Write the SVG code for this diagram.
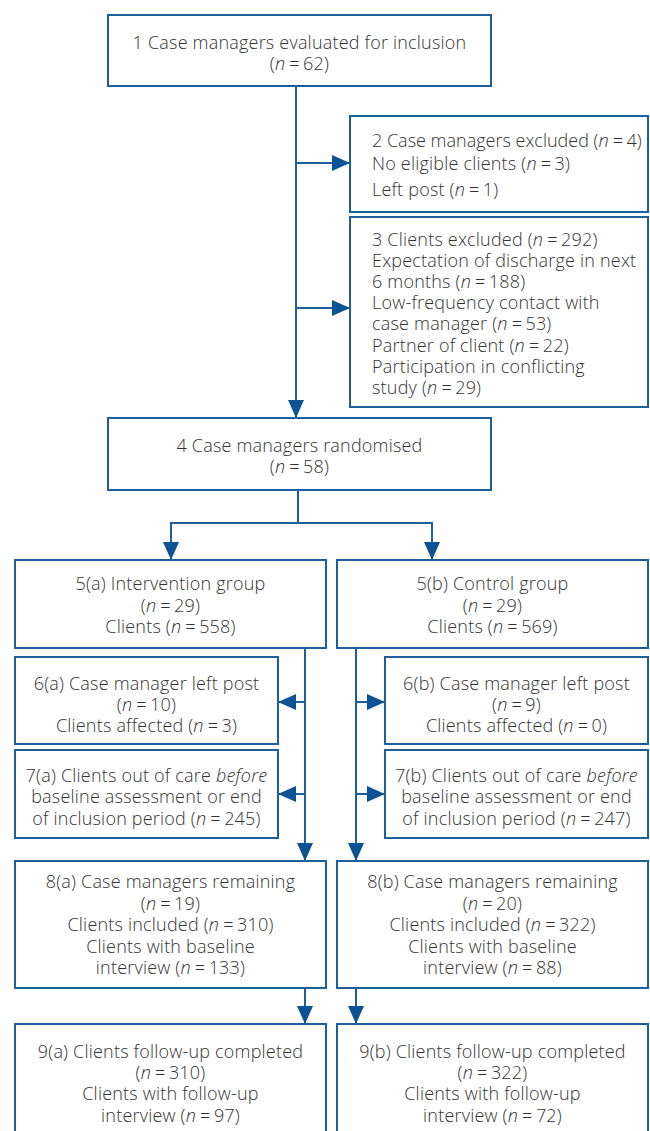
<svg xmlns="http://www.w3.org/2000/svg" width="650" height="1131" viewBox="0 0 650 1131">
<style>
rect.box{fill:#ffffff;stroke:#1d5e9c;stroke-width:2}
text{font-family:"Open Sans","Liberation Sans",sans-serif;font-size:18px;font-weight:300;letter-spacing:0.2px;fill:#333333}
text.c{text-anchor:middle}
text.tight{letter-spacing:0}
.i{font-style:italic}
.eq{letter-spacing:-0.6px}
#connectors line{stroke:#1d5e9c;stroke-width:2;fill:none}
</style>
<defs>
<marker id="ah" markerUnits="userSpaceOnUse" markerWidth="18" markerHeight="16" refX="18" refY="8" orient="auto">
<path d="M0,0 L18,8 L0,16 Z" fill="#0b5394"/>
</marker>
</defs>
<rect width="650" height="1131" fill="#ffffff"/>
<g id="connectors">
<line x1="296" y1="86" x2="296" y2="418" marker-end="url(#ah)"/>
<line x1="296" y1="163" x2="350" y2="163" marker-end="url(#ah)"/>
<line x1="296" y1="308" x2="350" y2="308" marker-end="url(#ah)"/>
<line x1="298" y1="490" x2="298" y2="523"/>
<line x1="170" y1="523" x2="433" y2="523"/>
<line x1="171" y1="523" x2="171" y2="560" marker-end="url(#ah)"/>
<line x1="432" y1="523" x2="432" y2="560" marker-end="url(#ah)"/>
<line x1="305" y1="648" x2="305" y2="861" marker-end="url(#ah)"/>
<line x1="305" y1="702" x2="278" y2="702" marker-end="url(#ah)"/>
<line x1="305" y1="794" x2="278" y2="794" marker-end="url(#ah)"/>
<line x1="356" y1="648" x2="356" y2="861" marker-end="url(#ah)"/>
<line x1="356" y1="702" x2="385" y2="702" marker-end="url(#ah)"/>
<line x1="356" y1="794" x2="385" y2="794" marker-end="url(#ah)"/>
<line x1="305" y1="988" x2="305" y2="1024" marker-end="url(#ah)"/>
<line x1="356" y1="988" x2="356" y2="1024" marker-end="url(#ah)"/>
</g>
<g id="n1">
<rect class="box" x="108" y="15" width="383" height="71"/>
<text class="c" x="299.5" y="49">1 Case managers evaluated for inclusion</text>
<text class="c" x="299.5" y="70">(<tspan class="i">n</tspan><tspan class="eq"> = </tspan>62)</text>
</g>
<g id="n2">
<rect class="box" x="350" y="116" width="298" height="96"/>
<text class="tight" x="372" y="147">2 Case managers excluded (<tspan class="i">n</tspan><tspan class="eq"> = </tspan>4)</text>
<text x="372" y="170">No eligible clients (<tspan class="i">n</tspan><tspan class="eq"> = </tspan>3)</text>
<text x="372" y="196">Left post (<tspan class="i">n</tspan><tspan class="eq"> = </tspan>1)</text>
</g>
<g id="n3">
<rect class="box" x="350" y="217" width="298" height="190"/>
<text x="372" y="246">3 Clients excluded (<tspan class="i">n</tspan><tspan class="eq"> = </tspan>292)</text>
<text x="372" y="267">Expectation of discharge in next</text>
<text x="372" y="288">6 months (<tspan class="i">n</tspan><tspan class="eq"> = </tspan>188)</text>
<text x="372" y="309">Low-frequency contact with</text>
<text x="372" y="330">case manager (<tspan class="i">n</tspan><tspan class="eq"> = </tspan>53)</text>
<text x="372" y="352">Partner of client (<tspan class="i">n</tspan><tspan class="eq"> = </tspan>22)</text>
<text x="372" y="373">Participation in conflicting</text>
<text x="372" y="394">study (<tspan class="i">n</tspan><tspan class="eq"> = </tspan>29)</text>
</g>
<g id="n4">
<rect class="box" x="108" y="418" width="383" height="72"/>
<text class="c" x="299.5" y="452">4 Case managers randomised</text>
<text class="c" x="299.5" y="473">(<tspan class="i">n</tspan><tspan class="eq"> = </tspan>58)</text>
</g>
<g id="n5a">
<rect class="box" x="15" y="560" width="311" height="88"/>
<text class="c" x="170.5" y="590">5(a) Intervention group</text>
<text class="c" x="170.5" y="612">(<tspan class="i">n</tspan><tspan class="eq"> = </tspan>29)</text>
<text class="c" x="170.5" y="633">Clients (<tspan class="i">n</tspan><tspan class="eq"> = </tspan>558)</text>
</g>
<g id="n5b">
<rect class="box" x="337" y="560" width="311" height="88"/>
<text class="c" x="492.5" y="590">5(b) Control group</text>
<text class="c" x="492.5" y="612">(<tspan class="i">n</tspan><tspan class="eq"> = </tspan>29)</text>
<text class="c" x="492.5" y="633">Clients (<tspan class="i">n</tspan><tspan class="eq"> = </tspan>569)</text>
</g>
<g id="n6a">
<rect class="box" x="15" y="657" width="263" height="87"/>
<text class="c" x="146.5" y="690">6(a) Case manager left post</text>
<text class="c" x="146.5" y="711">(<tspan class="i">n</tspan><tspan class="eq"> = </tspan>10)</text>
<text class="c" x="146.5" y="732">Clients affected (<tspan class="i">n</tspan><tspan class="eq"> = </tspan>3)</text>
</g>
<g id="n6b">
<rect class="box" x="385" y="657" width="263" height="87"/>
<text class="c" x="516.5" y="690">6(b) Case manager left post</text>
<text class="c" x="516.5" y="711">(<tspan class="i">n</tspan><tspan class="eq"> = </tspan>9)</text>
<text class="c" x="516.5" y="732">Clients affected (<tspan class="i">n</tspan><tspan class="eq"> = </tspan>0)</text>
</g>
<g id="n7a">
<rect class="box" x="15" y="750" width="263" height="88"/>
<text class="c" x="146.5" y="782">7(a) Clients out of care <tspan class="i">before</tspan></text>
<text class="c" x="146.5" y="803">baseline assessment or end</text>
<text class="c" x="146.5" y="825">of inclusion period (<tspan class="i">n</tspan><tspan class="eq"> = </tspan>245)</text>
</g>
<g id="n7b">
<rect class="box" x="385" y="750" width="263" height="88"/>
<text class="c" x="516.5" y="782">7(b) Clients out of care <tspan class="i">before</tspan></text>
<text class="c" x="516.5" y="803">baseline assessment or end</text>
<text class="c" x="516.5" y="825">of inclusion period (<tspan class="i">n</tspan><tspan class="eq"> = </tspan>247)</text>
</g>
<g id="n8a">
<rect class="box" x="15" y="861" width="311" height="127"/>
<text class="c" x="170.5" y="888">8(a) Case managers remaining</text>
<text class="c" x="170.5" y="910">(<tspan class="i">n</tspan><tspan class="eq"> = </tspan>19)</text>
<text class="c" x="170.5" y="931">Clients included (<tspan class="i">n</tspan><tspan class="eq"> = </tspan>310)</text>
<text class="c" x="170.5" y="953">Clients with baseline</text>
<text class="c" x="170.5" y="974">interview (<tspan class="i">n</tspan><tspan class="eq"> = </tspan>133)</text>
</g>
<g id="n8b">
<rect class="box" x="337" y="861" width="311" height="127"/>
<text class="c" x="492.5" y="888">8(b) Case managers remaining</text>
<text class="c" x="492.5" y="910">(<tspan class="i">n</tspan><tspan class="eq"> = </tspan>20)</text>
<text class="c" x="492.5" y="931">Clients included (<tspan class="i">n</tspan><tspan class="eq"> = </tspan>322)</text>
<text class="c" x="492.5" y="953">Clients with baseline</text>
<text class="c" x="492.5" y="974">interview (<tspan class="i">n</tspan><tspan class="eq"> = </tspan>88)</text>
</g>
<g id="n9a">
<rect class="box" x="15" y="1024" width="311" height="112"/>
<text class="c" x="170.5" y="1058">9(a) Clients follow-up completed</text>
<text class="c" x="170.5" y="1079">(<tspan class="i">n</tspan><tspan class="eq"> = </tspan>310)</text>
<text class="c" x="170.5" y="1100">Clients with follow-up</text>
<text class="c" x="170.5" y="1122">interview (<tspan class="i">n</tspan><tspan class="eq"> = </tspan>97)</text>
</g>
<g id="n9b">
<rect class="box" x="337" y="1024" width="311" height="112"/>
<text class="c" x="492.5" y="1058">9(b) Clients follow-up completed</text>
<text class="c" x="492.5" y="1079">(<tspan class="i">n</tspan><tspan class="eq"> = </tspan>322)</text>
<text class="c" x="492.5" y="1100">Clients with follow-up</text>
<text class="c" x="492.5" y="1122">interview (<tspan class="i">n</tspan><tspan class="eq"> = </tspan>72)</text>
</g>
</svg>
